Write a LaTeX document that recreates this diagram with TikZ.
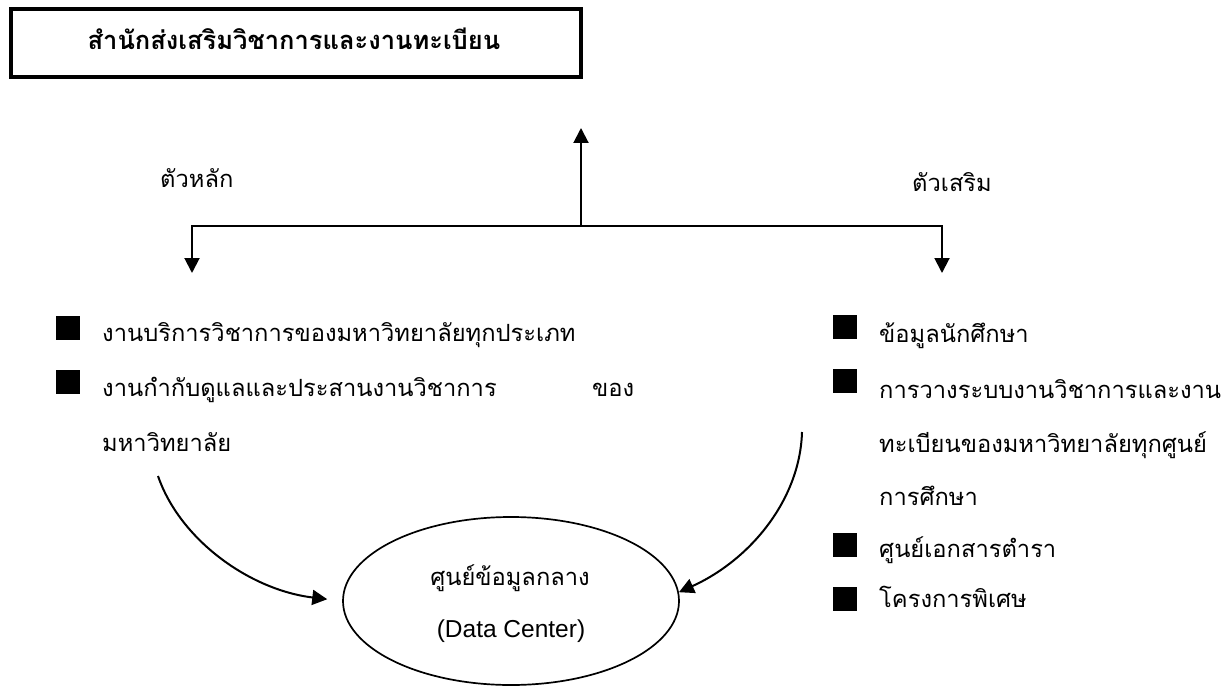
\documentclass[tikz,border=0pt]{standalone}
\usepackage{fontspec}
\setmainfont[Script=Thai]{Loma}
\newfontfamily\latinfont{Liberation Sans}
\usetikzlibrary{arrows.meta,shapes.geometric}
\tikzset{
  txt/.style={anchor=base west,inner sep=0pt,font=\fontsize{23.7}{28}\selectfont},
  blt/.style={fill=black,minimum size=24pt,inner sep=0pt},
  arr/.style={line width=2pt,-{Triangle[width=15pt,length=15pt]}},
}
\begin{document}
\begin{tikzpicture}[x=1pt,y=-1pt]
		\useasboundingbox (0,0) rectangle (1225,687);
		\node[draw,line width=4pt,minimum width=570pt,minimum height=68pt,inner sep=0pt] (title) at (296,43.5) {};
		\node[txt,anchor=base,font=\fontsize{25.5}{30}\selectfont\bfseries] (titletext) at (294,50) {สำนักส่งเสริมวิชาการและงานทะเบียน};
		
		\node[txt] (main) at (160,188) {ตัวหลัก};
		\node[txt] (extra) at (912,192) {ตัวเสริม};
		
		\coordinate (jn) at (581,226);
		\coordinate (up) at (581,128);
		\coordinate (ld) at (192,273);
		\coordinate (rd) at (942,273);
		\draw[arr] (jn) -- (up);
		\draw[line width=2pt,{Triangle[width=15pt,length=15pt]}-{Triangle[width=15pt,length=15pt]}] (ld) -- (ld|-jn) -- (rd|-jn) -- (rd);
		
		\node[blt] (lb1) at (68,328) {};
		\node[txt] (l1) at (102,341) {งานบริการวิชาการของมหาวิทยาลัยทุกประเภท};
		\node[blt] (lb2) at (68,382) {};
		\node[txt] (l2) at (102,396) {งานกำกับดูแลและประสานงานวิชาการ};
		\node[txt] (l2b) at (592,396) {ของ};
		\node[txt] (l3) at (102,451) {มหาวิทยาลัย};
		
		\node[blt] (rb1) at (845,327) {};
		\node[txt] (r1) at (879,342) {ข้อมูลนักศึกษา};
		\node[blt] (rb2) at (845,381) {};
		\node[txt] (r2) at (879,398) {การวางระบบงานวิชาการและงาน};
		\node[txt] (r3) at (879,452) {ทะเบียนของมหาวิทยาลัยทุกศูนย์};
		\node[txt] (r4) at (879,505) {การศึกษา};
		\node[blt] (rb5) at (845,545) {};
		\node[txt] (r5) at (879,557) {ศูนย์เอกสารตำรา};
		\node[blt] (rb6) at (845,599) {};
		\node[txt] (r6) at (879,607) {โครงการพิเศษ};
		
		\node[draw,ellipse,line width=1.7pt,minimum width=336pt,minimum height=168pt] (dc) at (511,601) {};
		\node[txt,anchor=base] (dc1) at (510,585) {ศูนย์ข้อมูลกลาง};
		\node[txt,anchor=base,font=\fontsize{24.5}{29}\latinfont] (dc2) at (511,637) {(Data Center)};
		
		\coordinate (ls) at (158,476);
		\coordinate (rs) at (802,432);
		\draw[arr,shorten >=15pt] (ls) .. controls (180,540) and (250,590) .. (dc.west);
		\draw[arr] (rs) .. controls (800,500) and (750,560) .. (dc.3);
\end{tikzpicture}
\end{document}
